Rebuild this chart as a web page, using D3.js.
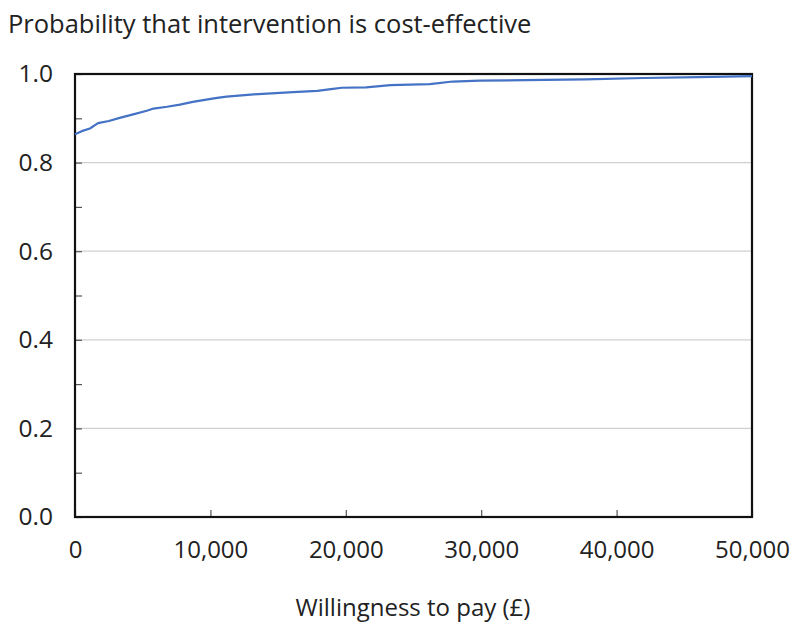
<!DOCTYPE html>
<html>
<head>
<meta charset="utf-8">
<script src="https://cdn.jsdelivr.net/npm/d3@7"></script>
<style>
  html, body { margin: 0; padding: 0; background: #fff; }
  svg { display: block; }
  text { font-family: "Open Sans", "Noto Sans", sans-serif; fill: #222; }
</style>
</head>
<body>
<svg id="chart" width="800" height="639"></svg>
<script>
const wtp = [0, 500, 1100, 1700, 2500, 3300, 4300, 5300, 5800, 6800, 7750, 8700, 9700, 10500, 11200, 13200, 16100, 17900, 18900, 19700, 21500, 23300, 26200, 27900, 29900, 33200, 37700, 42000, 46000, 50000];
const prob = [0.864, 0.871, 0.877, 0.889, 0.894, 0.901, 0.909, 0.917, 0.922, 0.926, 0.931, 0.937, 0.942, 0.946, 0.949, 0.954, 0.959, 0.962, 0.966, 0.969, 0.970, 0.975, 0.977, 0.983, 0.985, 0.986, 0.988, 0.991, 0.993, 0.995];
const xTicks = [0, 10000, 20000, 30000, 40000, 50000];
const yTicks = [0, 0.2, 0.4, 0.6, 0.8, 1.0];
const yMinorTicks = [0.1, 0.3, 0.5, 0.7, 0.9];
const title = "Probability that intervention is cost-effective";
const xTitle = "Willingness to pay (£)";

const svg = d3.select("#chart");
const L = 75, R = 752, T = 74, B = 517;
const x = d3.scaleLinear().domain([0, 50000]).range([L, R]);
const y = d3.scaleLinear().domain([0, 1]).range([B, T]);

// gridlines
svg.append("g").selectAll("line").data(yTicks.filter(d => d > 0 && d < 1)).join("line")
  .attr("x1", L).attr("x2", R).attr("y1", d => y(d)).attr("y2", d => y(d))
  .attr("stroke", "#d0d0d0").attr("stroke-width", 1.2);

// y axis (ticks inside)
const yAxis = d3.axisLeft(y).tickValues(yTicks.concat(yMinorTicks)).tickSize(-7)
  .tickFormat(d => yTicks.some(t => Math.abs(t - d) < 1e-9) ? d3.format(".1f")(d) : "");
const gy = svg.append("g").attr("transform", `translate(${L},0)`).call(yAxis);
gy.select(".domain").remove();
gy.selectAll(".tick line").attr("stroke", "#555").attr("stroke-width", 1.2);
gy.selectAll(".tick text").attr("x", -22).attr("font-size", 24.5).attr("fill", "#222")
  .style("font-family", "'Open Sans', sans-serif");

// x axis (ticks inside)
const xAxis = d3.axisBottom(x).tickValues(xTicks).tickSize(-7).tickFormat(d3.format(","));
const gx = svg.append("g").attr("transform", `translate(0,${B})`).call(xAxis);
gx.select(".domain").remove();
gx.selectAll(".tick line").attr("stroke", "#555").attr("stroke-width", 1.2);
gx.selectAll(".tick text").attr("y", 24).attr("dy", "0.71em").attr("font-size", 24).attr("fill", "#222")
  .style("font-family", "'Open Sans', sans-serif");

// frame
svg.append("rect").attr("x", L).attr("y", T).attr("width", R - L).attr("height", B - T)
  .attr("fill", "none").attr("stroke", "#111").attr("stroke-width", 2.2);

// curve
const pts = wtp.map((w, i) => [w, prob[i]]);
svg.append("path").datum(pts)
  .attr("fill", "none").attr("stroke", "#4472C4").attr("stroke-width", 2.2)
  .attr("stroke-linejoin", "round")
  .attr("d", d3.line().x(d => x(d[0])).y(d => y(d[1])));

// titles
svg.append("text").attr("x", 8).attr("y", 33).attr("font-size", 25.5).text(title);
svg.append("text").attr("x", 413).attr("y", 616).attr("text-anchor", "middle").attr("font-size", 24).text(xTitle);
</script>
</body>
</html>
